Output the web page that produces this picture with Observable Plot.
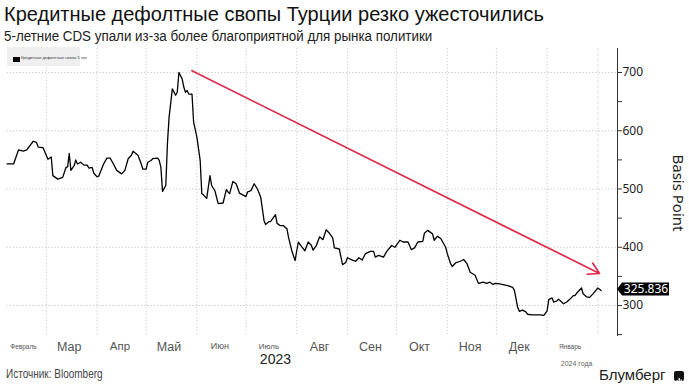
<!DOCTYPE html>
<html><head><meta charset="utf-8">
<script src="https://cdn.jsdelivr.net/npm/d3@7"></script>
<script src="https://cdn.jsdelivr.net/npm/@observablehq/plot@0.6"></script>
<style>
html,body{margin:0;padding:0;background:#fff;}
body{width:689px;height:387px;overflow:hidden;position:relative;font-family:"Liberation Sans",Arial,sans-serif;}
#title{position:absolute;left:4px;top:3px;font-size:20px;color:#111;white-space:nowrap;}
#subtitle{position:absolute;left:4px;top:28px;font-size:14px;color:#222;white-space:nowrap;transform:scaleX(0.955);transform-origin:0 0;}
#chart{position:absolute;left:0;top:44px;}
#legend{position:absolute;left:7px;top:47px;width:73px;height:19px;background:#efefef;}
#legend .sw{position:absolute;left:6px;top:10px;width:7px;height:5px;background:#000;}
#legend .tx{position:absolute;left:14px;top:8px;font-size:4px;color:#333;white-space:nowrap;}
#ylabel{position:absolute;left:679px;top:193px;transform:translate(-50%,-50%) rotate(90deg);font-family:"Noto Sans",sans-serif;font-size:15px;color:#222;white-space:nowrap;}
#source{position:absolute;left:6px;top:367px;font-size:12.5px;color:#444;white-space:nowrap;transform:scaleX(0.8);transform-origin:0 0;}
#brand{position:absolute;left:599px;top:366px;font-size:15px;color:#222;white-space:nowrap;}
#icon{position:absolute;left:674px;top:371px;width:10px;height:10px;background:#111;border-radius:2px;}
</style>
</head><body>
<div id="title">Кредитные дефолтные свопы Турции резко ужесточились</div>
<div id="subtitle">5-летние CDS упали из-за более благоприятной для рынка политики</div>
<div id="chart"></div>
<div id="legend"><div class="sw"></div><div class="tx">Кредитные дефолтные свопы 5 лет</div></div>
<div id="ylabel">Basis Point</div>
<div id="source">Источник: Bloomberg</div>
<div id="brand">Блумберг</div>
<div id="icon"><svg width="10" height="10"><rect x="2.5" y="5" width="1.3" height="3" fill="#fff"/><rect x="4.5" y="3" width="1.3" height="5" fill="#fff"/><rect x="6.5" y="4.5" width="1.3" height="3.5" fill="#fff"/></svg></div>
<script>
const dates = ["2023-02-05","2023-02-09","2023-02-12","2023-02-15","2023-02-17","2023-02-21","2023-02-23","2023-02-24","2023-02-27",
"2023-03-02","2023-03-04","2023-03-05","2023-03-08","2023-03-11","2023-03-13","2023-03-14","2023-03-15","2023-03-16","2023-03-18","2023-03-19","2023-03-20","2023-03-22","2023-03-24","2023-03-26","2023-03-27","2023-03-29","2023-03-30",
"2023-04-01","2023-04-02","2023-04-05","2023-04-07","2023-04-09","2023-04-11","2023-04-13","2023-04-16","2023-04-18","2023-04-20","2023-04-22","2023-04-23","2023-04-26","2023-04-28","2023-04-29",
"2023-05-01","2023-05-02","2023-05-04","2023-05-05","2023-05-08","2023-05-09","2023-05-10","2023-05-11","2023-05-13","2023-05-14","2023-05-15","2023-05-17","2023-05-19","2023-05-20","2023-05-21","2023-05-23","2023-05-24","2023-05-25","2023-05-26","2023-05-27","2023-05-29","2023-05-30",
"2023-06-01","2023-06-03","2023-06-04","2023-06-05","2023-06-07","2023-06-09","2023-06-10","2023-06-12","2023-06-14","2023-06-17","2023-06-19","2023-06-20","2023-06-21","2023-06-23","2023-06-25","2023-06-27",
"2023-07-01","2023-07-02","2023-07-04","2023-07-06","2023-07-08","2023-07-10","2023-07-12","2023-07-13","2023-07-15","2023-07-16","2023-07-19","2023-07-20","2023-07-22","2023-07-24","2023-07-25","2023-07-26","2023-07-27","2023-07-29","2023-07-31",
"2023-08-01","2023-08-02","2023-08-04","2023-08-06","2023-08-08","2023-08-10","2023-08-11","2023-08-13","2023-08-15","2023-08-17","2023-08-19","2023-08-21","2023-08-23","2023-08-24","2023-08-27","2023-08-29","2023-08-31",
"2023-09-01","2023-09-04","2023-09-06","2023-09-08","2023-09-10","2023-09-12","2023-09-15","2023-09-17","2023-09-18","2023-09-20","2023-09-23","2023-09-25","2023-09-28","2023-09-30",
"2023-10-03","2023-10-05","2023-10-08","2023-10-10","2023-10-12","2023-10-14","2023-10-17","2023-10-18","2023-10-20","2023-10-23","2023-10-24","2023-10-26","2023-10-28","2023-10-31",
"2023-11-01","2023-11-03","2023-11-04","2023-11-06","2023-11-09","2023-11-11","2023-11-13","2023-11-15","2023-11-18","2023-11-20","2023-11-23","2023-11-25","2023-11-27","2023-11-29","2023-11-30",
"2023-12-03","2023-12-05","2023-12-08","2023-12-11","2023-12-12","2023-12-14","2023-12-15","2023-12-17","2023-12-19","2023-12-20","2023-12-23","2023-12-28","2023-12-30",
"2024-01-01","2024-01-02","2024-01-04","2024-01-05","2024-01-07","2024-01-08","2024-01-11","2024-01-13","2024-01-15","2024-01-17","2024-01-18","2024-01-19","2024-01-22","2024-01-23","2024-01-25","2024-01-27","2024-01-29",
"2024-02-01","2024-02-03"];
const values = [543,543,567,565,567,582,580,572,571,
551,555,523,517,520,537,538,561,532,540,550,543,546,541,541,536,537,527,
521,522,543,553,553,543,532,526,532,552,558,565,558,543,534,
534,546,549,552,553,549,537,496,506,578,623,672,661,666,700,689,675,666,669,663,663,615,
589,549,492,490,484,523,506,497,475,476,499,495,492,513,509,493,
487,495,497,509,500,486,446,439,444,444,456,441,437,437,434,432,417,394,377,
394,409,401,394,409,403,395,403,418,413,430,424,416,399,397,370,374,
382,378,376,382,378,389,393,393,383,386,383,393,403,400,
412,409,409,396,399,409,410,424,429,423,412,419,415,400,
389,372,367,373,376,379,372,357,352,338,340,338,340,336,338,
337,336,334,331,326,297,290,292,289,285,284,284,283,
291,310,313,306,308,311,303,306,311,317,317,321,330,320,315,314,320,
330,325.836];
const lastValue = 325.836;
const monthLabels = ["Февраль","Мар","Апр","Май","Июн","Июль","Авг","Сен","Окт","Ноя","Дек","Январь"];
const monthMid = ["2023-02-15","2023-03-15","2023-04-15","2023-05-15","2023-06-15","2023-07-15","2023-08-15","2023-09-15","2023-10-15","2023-11-15","2023-12-15","2024-01-15"];
const monthStarts = ["2023-03-01","2023-04-01","2023-05-01","2023-06-01","2023-07-01","2023-08-01","2023-09-01","2023-10-01","2023-11-01","2023-12-01","2024-01-01","2024-02-01"];
const yearLabels = ["2023","2024 года"];
const yearDates = ["2023-07-19","2024-01-19"];
const yTicks = [300,400,500,600,700];
const yMinorTicks = [250,350,450,550,650];
const arrowStart = ["2023-05-29", 703];
const arrowEnd = ["2024-02-02", 355];

// styling (not data)
const smallLabels = {"Февраль":6.5,"Январь":6.5,"Июль":8,"Июн":9,"Апр":11.5};
const xStart = new Date("2023-02-05"), xEnd = new Date("2024-02-13");
const data = dates.map((d,i)=>({date:new Date(d), value:values[i]}));
const grid = {stroke:"#c9c9c9", strokeDasharray:"1.2,2", strokeWidth:1};

const chart = Plot.plot({
  width: 689, height: 322,
  marginLeft: 0, marginRight: 72, marginTop: 4, marginBottom: 30,
  x: {type:"utc", domain:[new Date("2023-02-01"), xEnd], axis:null},
  y: {domain:[246.8, 741.2], axis:null},
  style: {background:"transparent", overflow:"visible", fontFamily:"'Liberation Sans', Arial, sans-serif"},
  marks: [
    Plot.ruleX(monthStarts, {x: d=>new Date(d), ...grid}),
    Plot.ruleY(yTicks, {y: d=>d, x1: ()=>xStart, x2: ()=>xEnd, ...grid}),
    Plot.ruleX([xEnd], {x: d=>d, stroke:"#333", strokeWidth:1}),
    Plot.axisY(yMinorTicks, {anchor:"right", tickSize:4, tickFormat: ()=>"", stroke:"#333", label:null}),
    Plot.axisY(yTicks, {anchor:"right", tickSize:4, tickPadding:1, fontSize:12, fill:"#222", stroke:"#333", label:null, fontFamily:"'Noto Sans', sans-serif"}),
    Plot.line(data, {x:"date", y:"value", stroke:"#000", strokeWidth:1.3}),
    Plot.arrow([0], {x1: ()=>new Date(arrowStart[0]), y1: ()=>arrowStart[1], x2: ()=>new Date(arrowEnd[0]), y2: ()=>arrowEnd[1], stroke:"#de2a4b", strokeWidth:1.7, headLength:11}),
    Plot.text(monthLabels, {x: (d,i)=>new Date(monthMid[i]), text: d=>d, frameAnchor:"bottom", lineAnchor:"middle", dy:10, fontSize: d=>smallLabels[d] ?? 12.5, fill:"#555"}),
    Plot.text([yearLabels[0]], {x: ()=>new Date(yearDates[0]), text: d=>d, frameAnchor:"bottom", lineAnchor:"middle", dy:23, fontSize:14, fill:"#222"}),
    Plot.text([yearLabels[1]], {x: ()=>new Date(yearDates[1]), text: d=>d, frameAnchor:"bottom", lineAnchor:"middle", dy:27, fontSize:7, fill:"#666"})
  ]
});
document.getElementById("chart").appendChild(chart);

// last-value tag at the axis
const xs = chart.scale("x"), ys = chart.scale("y");
const px = xs.apply(xEnd), py = ys.apply(lastValue) - 1;
const g = d3.select(chart).append("g");
g.append("path").attr("d", `M${px},${py}L${px+5},${py-6.5}L${px+52},${py-6.5}L${px+52},${py+6.5}L${px+5},${py+6.5}Z`).attr("fill","#000");
g.append("text").attr("x", px+29).attr("y", py).attr("dy","0.35em").attr("text-anchor","middle")
  .attr("fill","#fff").attr("font-size",12).attr("font-family","'Noto Sans', sans-serif").text(d3.format(".3f")(lastValue));
</script>
</body></html>
